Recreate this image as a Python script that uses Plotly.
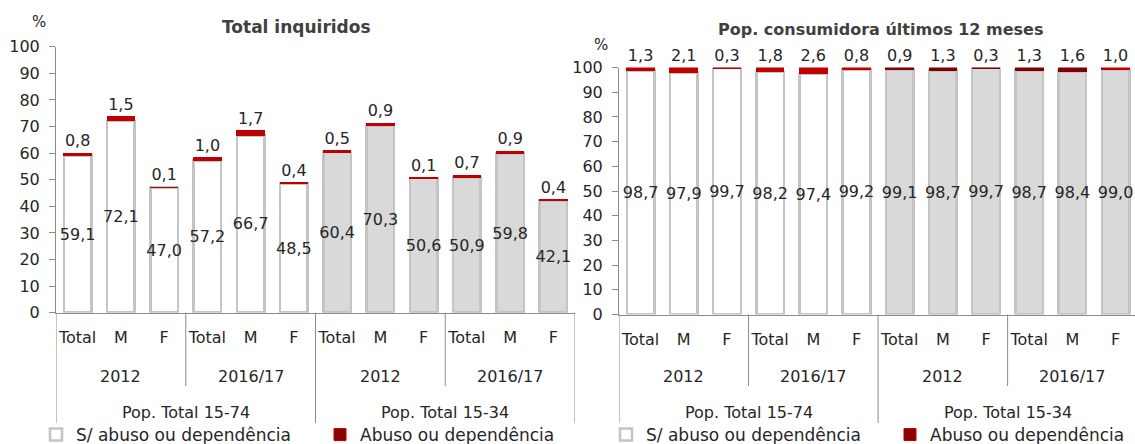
import plotly.graph_objects as go

# ---------------- data ----------------
sexes = ["Total", "M", "F"]
years = ["2012", "2016/17"]
pops = ["Pop. Total 15-74", "Pop. Total 15-34"]

left_title = "Total inquiridos"
right_title = "Pop. consumidora últimos 12 meses"
series_names = ["S/ abuso ou dependência", "Abuso ou dependência"]

left_no_abuse = [59.1, 72.1, 47.0, 57.2, 66.7, 48.5, 60.4, 70.3, 50.6, 50.9, 59.8, 42.1]
left_abuse = [0.8, 1.5, 0.1, 1.0, 1.7, 0.4, 0.5, 0.9, 0.1, 0.7, 0.9, 0.4]
right_no_abuse = [98.7, 97.9, 99.7, 98.2, 97.4, 99.2, 99.1, 98.7, 99.7, 98.7, 98.4, 99.0]
right_abuse = [1.3, 2.1, 0.3, 1.8, 2.6, 0.8, 0.9, 1.3, 0.3, 1.3, 1.6, 1.0]

# ---------------- styles ----------------
W, H = 1135, 444
FONT = "DejaVu Sans"
TXT = "#262626"
AXC = "#8c8c8c"
BRIGHT = "#c00000"
DARK = "#7f0000"
LEG_DARK = "#8b0000"
pop_fill = ["#ffffff", "#d9d9d9"]
right_red_style = [BRIGHT] * 6 + [DARK] * 5 + [BRIGHT]
left_red_style = [BRIGHT] * 12

n_s, n_y, n_p = len(sexes), len(years), len(pops)
x = list(range(n_s * n_y * n_p))
ticktext = [s for _ in range(n_y * n_p) for s in sexes]
fill = [pop_fill[i // (n_s * n_y)] for i in x]


def px(v):
    return v / W


def py(v):
    return (H - v) / H


fig = go.Figure()

charts = [
    dict(no=left_no_abuse, ab=left_abuse, red=left_red_style, xa="x", ya="y", leg="legend",
         xdom=[px(56), px(575)], ydom=[py(312.7), py(46.7)], xr=[-0.5, 11.5]),
    dict(no=right_no_abuse, ab=right_abuse, red=right_red_style, xa="x2", ya="y2", leg="legend2",
         xdom=[px(619), 1.0], ydom=[py(314.5), py(67.5)], xr=[-0.5, 11.45]),
]

for c in charts:
    fig.add_trace(go.Bar(
        x=x, y=c["no"], name=series_names[0], xaxis=c["xa"], yaxis=c["ya"], legend=c["leg"],
        marker=dict(color=fill, line=dict(color="#c4c4c4", width=2.5)),
        width=0.64, texttemplate="%{y:.1f}", textposition="inside", insidetextanchor="middle",
        textangle=0, constraintext="none", cliponaxis=False,
        insidetextfont=dict(family=FONT, size=16, color=TXT), hoverinfo="skip",
    ))
    fig.add_trace(go.Bar(
        x=x, y=c["ab"], name=series_names[1], xaxis=c["xa"], yaxis=c["ya"], legend=c["leg"],
        showlegend=False,
        marker=dict(color=c["red"], line=dict(color=c["red"], width=1)),
        width=0.64, texttemplate="%{y:.1f}", textposition="outside",
        textangle=0, constraintext="none", cliponaxis=False,
        outsidetextfont=dict(family=FONT, size=16, color=TXT), hoverinfo="skip",
    ))
    # legend entry for the abuse series (dark swatch with red border, as in the original)
    fig.add_trace(go.Bar(
        x=[None], y=[None], name=series_names[1], xaxis=c["xa"], yaxis=c["ya"], legend=c["leg"],
        marker=dict(color=LEG_DARK, line=dict(color=BRIGHT, width=1)), hoverinfo="skip",
    ))

ax_common = dict(showgrid=False, zeroline=False, showline=True, linecolor=AXC, linewidth=1,
                 tickfont=dict(family=FONT, size=16, color=TXT), automargin=False, fixedrange=True)

for i, c in enumerate(charts):
    sfx = "" if i == 0 else "2"
    fig.update_layout(**{
        "xaxis" + sfx: dict(ax_common, domain=c["xdom"], range=c["xr"], anchor="y" + sfx,
                            tickvals=x, ticktext=ticktext, ticks="", ticklabelstandoff=10),
        "yaxis" + sfx: dict(ax_common, domain=c["ydom"], range=[0, 100], anchor="x" + sfx,
                            tickvals=list(range(0, 101, 10)), ticks="outside", ticklen=6,
                            tickcolor=AXC, ticklabelstandoff=6),
    })

shapes = []
annotations = []
group = n_s
block = n_s * n_y
lbl_font = dict(family=FONT, size=16, color=TXT)
for i, c in enumerate(charts):
    xr = c["xa"]
    y_axis = c["ydom"][0]
    # year separators
    for k in range(1, n_y * n_p):
        if k % n_y == 0:
            continue
        xs = k * group - 0.5
        shapes.append(dict(type="line", xref=xr, yref="paper", x0=xs, x1=xs,
                           y0=y_axis, y1=py(386), line=dict(color=AXC, width=1)))
    # population separators
    for k in range(n_p + 1):
        if i == 1 and k == n_p:
            continue
        xs = k * block - 0.5
        shapes.append(dict(type="line", xref=xr, yref="paper", x0=xs, x1=xs,
                           y0=y_axis, y1=py(423), line=dict(color=AXC, width=1)))
    for k in range(n_y * n_p):
        annotations.append(dict(xref=xr, yref="paper", x=k * group + (group - 1) / 2, y=py(376),
                                xanchor="center", yanchor="middle",
                                text=years[k % n_y], showarrow=False, font=lbl_font))
    for k in range(n_p):
        annotations.append(dict(xref=xr, yref="paper", x=k * block + (block - 1) / 2, y=py(412),
                                xanchor="center", yanchor="middle",
                                text=pops[k], showarrow=False, font=lbl_font))

annotations += [
    dict(xref="paper", yref="paper", x=px(296), y=py(27), xanchor="center", yanchor="middle",
         text="<b>" + left_title + "</b>", showarrow=False,
         font=dict(family=FONT, size=17, color="#404040")),
    dict(xref="paper", yref="paper", x=px(880), y=py(29), xanchor="center", yanchor="middle",
         text="<b>" + right_title + "</b>", showarrow=False,
         font=dict(family=FONT, size=16, color="#404040")),
    dict(xref="paper", yref="paper", x=px(39), y=py(22), xanchor="center", yanchor="middle",
         text="%", showarrow=False, font=dict(family=FONT, size=15, color=TXT)),
    dict(xref="paper", yref="paper", x=px(601), y=py(45), xanchor="center", yanchor="middle",
         text="%", showarrow=False, font=dict(family=FONT, size=15, color=TXT)),
]

leg_common = dict(orientation="h", yanchor="middle", y=py(435), xanchor="left",
                  font=dict(family=FONT, size=17, color=TXT), bgcolor="rgba(0,0,0,0)",
                  itemclick=False, itemdoubleclick=False, traceorder="normal",
                  entrywidth=239, entrywidthmode="pixels")

fig.update_layout(
    width=W, height=H, margin=dict(l=0, r=0, t=0, b=0, autoexpand=False),
    paper_bgcolor="white", plot_bgcolor="white",
    barmode="stack", bargap=0.35, separators=", ",
    showlegend=True,
    legend=dict(leg_common, x=px(36)),
    legend2=dict(leg_common, x=px(606)),
    shapes=shapes, annotations=annotations,
)

fig.write_html("out.html", config={"displayModeBar": False},
               post_script="document.body.style.margin='0';")
